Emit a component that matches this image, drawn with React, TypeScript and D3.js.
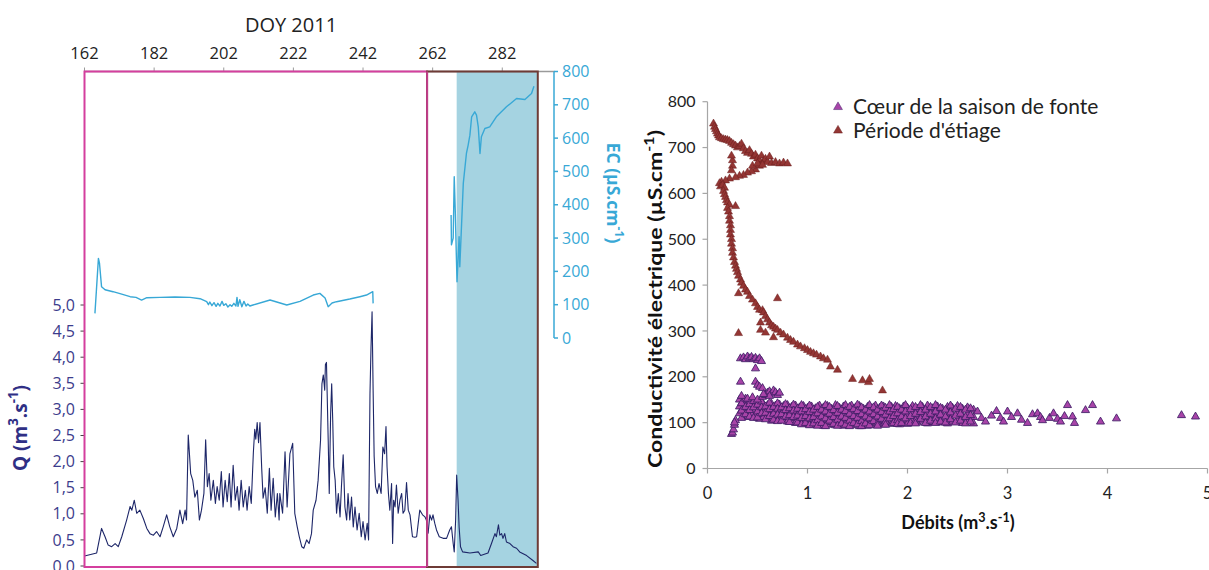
import React from "react";
import * as d3 from "d3";

// ---------- Left chart data ----------
const doyTicks = [162, 182, 202, 222, 242, 262, 282];
const qTicks = [0, 0.5, 1, 1.5, 2, 2.5, 3, 3.5, 4, 4.5, 5];
const ecTicks = [0, 100, 200, 300, 400, 500, 600, 700, 800];
const doyDomain = [162, 297];
const meltPeriod = [162, 260.4];
const lowPeriod = [260.4, 292.2];
const shadedPeriod = [268.9, 292.2];

// discharge Q (m3/s) by day of year
const qSeries: [number, number][] = [
  [162.0, 0.19], [165.5, 0.25], [166.9, 0.72], [167.9, 0.56], [168.8, 0.4], [169.8, 0.37], [170.8, 0.43], [171.7, 0.37],
  [172.7, 0.56], [174.1, 0.88], [175.1, 1.14], [175.6, 1.07], [176.3, 1.26], [177.0, 1.01], [177.9, 1.07], [178.9, 0.91],
  [179.9, 0.72], [180.8, 0.62], [181.8, 0.59], [182.7, 0.66], [183.7, 0.56], [184.6, 0.75], [185.6, 0.98], [186.5, 0.75],
  [187.5, 0.56], [188.5, 0.72], [189.4, 1.07], [190.2, 0.81], [190.9, 1.07], [191.3, 0.88], [191.8, 2.51], [192.5, 1.77],
  [193.1, 1.64], [193.7, 1.32], [194.4, 1.45], [195.0, 0.88], [195.6, 1.07], [196.3, 1.39], [196.8, 2.42], [197.3, 1.52],
  [197.8, 1.77], [198.3, 1.26], [199.0, 1.64], [199.6, 1.2], [200.1, 1.52], [200.7, 1.26], [201.3, 1.81], [201.8, 1.13],
  [202.4, 1.64], [203.0, 1.23], [203.6, 1.77], [204.1, 1.13], [204.7, 1.93], [205.3, 1.26], [205.9, 1.52], [206.4, 1.07],
  [207.0, 1.64], [207.6, 1.13], [208.2, 1.45], [208.7, 1.07], [209.3, 1.52], [209.9, 1.2], [210.5, 2.17], [210.9, 2.62],
  [211.2, 2.43], [211.6, 2.75], [212.0, 2.36], [212.4, 2.75], [212.9, 1.87], [213.3, 1.3], [213.9, 1.5], [214.5, 1.01],
  [215.1, 1.87], [215.6, 1.07], [216.2, 1.68], [216.8, 0.94], [217.4, 1.39], [217.9, 0.88], [218.1, 1.39], [218.9, 1.01],
  [219.6, 2.19], [220.2, 1.13], [221.0, 2.15], [221.8, 2.35], [222.4, 1.01], [223.1, 0.75], [223.7, 0.56], [224.4, 0.37],
  [225.0, 0.34], [225.8, 0.5], [226.5, 0.43], [227.2, 0.62], [227.7, 1.07], [228.5, 1.26], [229.1, 1.64], [229.8, 2.41],
  [230.2, 3.49], [230.6, 3.66], [231.0, 3.37], [231.2, 3.86], [231.5, 3.9], [232.0, 2.41], [232.3, 1.39], [232.7, 2.92],
  [233.0, 3.49], [233.3, 2.79], [233.6, 1.9], [234.0, 1.64], [234.4, 1.01], [234.9, 1.39], [235.4, 0.94], [235.8, 1.52],
  [236.3, 2.13], [236.8, 1.13], [237.3, 0.88], [237.7, 1.39], [238.2, 0.88], [238.7, 1.32], [239.2, 0.75], [239.7, 1.13],
  [240.3, 0.69], [240.9, 1.01], [241.5, 0.56], [242.0, 0.85], [242.6, 0.5], [243.2, 0.82], [243.6, 0.5], [244.0, 3.3],
  [244.3, 4.2], [244.6, 4.87], [244.9, 3.37], [245.2, 2.1], [245.6, 1.52], [246.1, 1.39], [246.6, 1.58], [247.2, 1.39],
  [247.7, 2.28], [248.2, 2.15], [248.6, 2.67], [248.9, 1.9], [249.3, 1.39], [249.7, 1.07], [250.2, 1.58], [250.5, 0.43],
  [250.8, 1.26], [251.2, 1.13], [251.6, 1.55], [252.1, 1.01], [252.6, 1.26], [253.1, 1.39], [253.5, 1.01], [254.0, 1.07],
  [254.5, 1.6], [255.0, 1.07], [255.5, 0.98], [256.2, 0.56], [256.9, 0.55], [257.4, 0.56], [258.3, 1.07], [259.1, 0.98],
  [259.8, 0.94], [260.2, 0.88], [260.7, 0.63], [261.2, 0.98], [261.7, 0.88], [262.1, 0.98], [262.6, 0.82], [263.1, 0.69],
  [263.9, 0.56], [265.0, 0.53], [266.0, 0.53], [266.9, 0.69], [267.4, 0.75], [267.9, 0.43], [268.2, 0.27], [268.6, 0.88],
  [268.9, 1.74], [269.3, 1.26], [269.6, 0.75], [270.0, 0.37], [270.6, 0.27], [272.7, 0.25], [275.1, 0.27], [275.8, 0.2],
  [277.9, 0.25], [278.9, 0.43], [279.9, 0.62], [280.3, 0.56], [280.9, 0.79], [281.3, 0.59], [281.8, 0.62], [282.2, 0.53],
  [282.7, 0.62], [283.2, 0.46], [284.2, 0.43], [285.1, 0.37], [286.1, 0.34], [287.0, 0.27], [289.0, 0.2], [290.9, 0.1],
  [291.8, 0.05],
];

// electrical conductivity EC (µS/cm), melt season
const ecMelt: [number, number][] = [
  [165.0, 74], [165.4, 140], [166.0, 239], [166.3, 225], [166.9, 154], [167.9, 145], [170.2, 139], [172.2, 133],
  [175.1, 124], [176.8, 122], [178.4, 114], [179.9, 121], [183.7, 122], [188.0, 123], [192.3, 122], [195.2, 118],
  [197.1, 109], [197.6, 100], [198.0, 108], [198.6, 97], [199.2, 106], [199.8, 95], [200.3, 104], [200.9, 96],
  [201.5, 110], [202.0, 98], [202.6, 103], [203.2, 93], [203.8, 100], [204.3, 95], [204.9, 104], [205.5, 96],
  [205.8, 122], [206.1, 95], [206.6, 115], [207.2, 94], [207.8, 110], [208.4, 96], [208.9, 102], [209.5, 96],
  [210.4, 99], [215.3, 114], [220.1, 99], [223.9, 110], [227.7, 129], [229.6, 134], [231.1, 120], [232.0, 94],
  [233.1, 105], [234.4, 109], [238.2, 117], [241.1, 124], [243.0, 129], [244.8, 139], [244.9, 104],
];

// electrical conductivity EC (µS/cm), low-water period
const ecLow: [number, number][] = [
  [267.3, 369], [267.4, 280], [267.9, 300], [268.2, 484], [268.5, 380], [268.8, 250], [269.0, 169], [269.6, 304],
  [269.8, 214], [270.8, 464], [271.7, 554], [272.2, 579], [272.7, 609], [273.2, 664], [274.1, 679], [274.6, 669],
  [275.1, 634], [275.6, 554], [276.0, 604], [277.0, 629], [278.4, 634], [280.3, 664], [283.2, 694], [286.1, 719],
  [288.5, 716], [290.4, 734], [291.1, 756],
];

// ---------- Right chart data ----------
const debitTicks = [0, 1, 2, 3, 4, 5];
const condTicks = [0, 100, 200, 300, 400, 500, 600, 700, 800];
const seriesNames = ["Cœur de la saison de fonte", "Période d'étiage"];

// melt season: dense band, Q -> several EC readings
const meltBand: [number, number[]][] = [
  [0.32, [150, 135, 120]], [0.36, [146, 130, 115]], [0.40, [148, 138, 124, 112]], [0.44, [145, 132, 118]],
  [0.48, [142, 128, 114]], [0.52, [144, 130, 118, 108]], [0.56, [140, 126, 112]], [0.60, [138, 124, 110]],
  [0.64, [141, 128, 115, 104]], [0.68, [137, 122, 108]], [0.72, [139, 126, 113]], [0.76, [136, 121, 106]],
  [0.80, [138, 125, 112, 102]], [0.84, [134, 120, 105]], [0.88, [137, 123, 110, 99]], [0.92, [133, 118, 104]],
  [0.96, [136, 122, 108, 97]], [1.00, [132, 117, 102]], [1.04, [135, 121, 107, 95]], [1.08, [131, 116, 100]],
  [1.12, [137, 124, 110, 96]], [1.16, [133, 119, 104, 93]], [1.20, [136, 121, 106, 95]], [1.24, [130, 116, 101]],
  [1.28, [138, 123, 108, 94]], [1.32, [132, 117, 102]], [1.36, [135, 120, 105, 93]], [1.40, [131, 116, 100]],
  [1.44, [137, 122, 107, 94]], [1.48, [133, 118, 103]], [1.52, [136, 121, 106, 92]], [1.56, [130, 115, 99]],
  [1.60, [134, 119, 104, 93]], [1.64, [131, 116, 101]], [1.68, [137, 122, 107, 95]], [1.72, [132, 117, 102]],
  [1.76, [135, 120, 105, 96]], [1.80, [130, 115, 100]], [1.84, [134, 119, 104, 97]], [1.88, [136, 121, 106]],
  [1.92, [131, 116, 101, 96]], [1.96, [135, 120, 105]], [2.00, [132, 117, 102, 97]], [2.05, [136, 121, 106]],
  [2.10, [130, 115, 100]], [2.15, [134, 119, 104]], [2.20, [137, 122, 107, 98]], [2.25, [131, 116, 101]],
  [2.30, [135, 120, 105]], [2.35, [130, 115, 100]], [2.40, [134, 119, 104, 98]], [2.45, [132, 117, 102]],
  [2.50, [136, 121, 106]], [2.55, [130, 115, 99]], [2.60, [133, 118, 104]], [2.66, [128, 112, 98]],
  [0.34, [142, 126, 110]], [0.38, [152, 134, 118]], [0.42, [140, 127, 113]], [0.46, [147, 133, 110]],
  [0.50, [139, 124, 111]], [0.54, [146, 133, 120]], [0.58, [135, 121, 107]], [0.62, [143, 129, 114]],
  [0.66, [134, 119, 106]], [0.70, [142, 130, 117, 103]], [0.74, [133, 118, 104]], [0.78, [140, 127, 113]],
  [0.82, [131, 116, 101]], [0.86, [139, 126, 112]], [0.90, [130, 115, 100]], [0.94, [138, 124, 110, 96]],
  [0.98, [129, 114, 99]], [1.02, [137, 123, 109, 94]], [1.06, [128, 112, 98]], [1.10, [134, 120, 105, 93]],
  [1.14, [128, 113, 99]], [1.18, [138, 124, 109, 92]], [1.22, [134, 119, 104]], [1.26, [127, 112, 97]],
  [1.30, [136, 121, 106, 93]], [1.34, [128, 113, 98]], [1.38, [138, 125, 110, 95]], [1.42, [134, 119, 104, 92]],
  [1.46, [129, 114, 99]], [1.50, [139, 125, 110, 96]], [1.54, [133, 118, 103, 92]], [1.58, [128, 113, 98]],
  [1.62, [138, 124, 109, 94]], [1.66, [133, 118, 103]], [1.70, [128, 113, 98, 93]], [1.74, [137, 123, 108]],
  [1.78, [132, 117, 102, 95]], [1.82, [138, 124, 109]], [1.86, [129, 114, 99]], [1.90, [134, 120, 105, 97]],
  [1.94, [128, 113, 99]], [1.98, [138, 124, 109]], [2.03, [129, 114, 99]], [2.08, [134, 119, 104, 98]],
  [2.13, [138, 123, 108]], [2.18, [128, 113, 99]], [2.23, [134, 119, 104]], [2.28, [138, 124, 109, 99]],
  [2.33, [132, 117, 102]], [2.38, [128, 113, 100]], [2.43, [137, 122, 107]], [2.48, [130, 115, 100]],
  [2.53, [134, 119, 104]], [2.58, [128, 112, 98]], [2.63, [131, 116, 102]],
];

// melt season: isolated points (Q, EC)
const meltPoints: [number, number][] = [
  [0.24, 75], [0.25, 78], [0.26, 85], [0.27, 95], [0.28, 105], [0.27, 100],
  [0.33, 240], [0.36, 242], [0.38, 238], [0.40, 244], [0.42, 240], [0.44, 243], [0.46, 238], [0.48, 241],
  [0.50, 236], [0.52, 240], [0.54, 234], [0.48, 218], [0.33, 189], [0.48, 189], [0.50, 182], [0.52, 178], [0.55, 175],
  [0.34, 158], [0.40, 152], [0.45, 155], [0.50, 150], [0.55, 156], [0.58, 160], [0.60, 165], [0.62, 168],
  [0.64, 163], [0.66, 170], [0.68, 166], [0.70, 160], [0.72, 165], [0.62, 158], [0.56, 162],
  [2.70, 124], [2.74, 110], [2.78, 102], [2.84, 115], [2.89, 125], [2.93, 110], [2.96, 102], [3.00, 124],
  [3.04, 112], [3.10, 120], [3.14, 106], [3.20, 99], [3.25, 118], [3.30, 120], [3.33, 112], [3.35, 105],
  [3.42, 110], [3.46, 120], [3.50, 108], [3.53, 102], [3.57, 114], [3.60, 138], [3.65, 113], [3.67, 99],
  [3.78, 127], [3.85, 138], [3.93, 102], [4.09, 109], [4.74, 116], [4.88, 113],
];

// low-water period (Q, EC)
const lowPoints: [number, number][] = [
  [0.06, 752], [0.07, 745], [0.08, 740], [0.09, 735], [0.10, 730], [0.11, 726], [0.12, 722], [0.14, 720],
  [0.16, 718], [0.18, 717], [0.20, 716], [0.22, 714], [0.24, 710], [0.26, 707], [0.28, 704], [0.30, 700],
  [0.32, 703], [0.34, 708], [0.36, 698], [0.38, 692], [0.40, 688], [0.42, 694], [0.44, 686], [0.46, 680],
  [0.48, 684], [0.50, 676], [0.52, 672], [0.54, 682], [0.56, 670], [0.58, 675], [0.60, 668], [0.62, 680],
  [0.64, 666], [0.68, 668], [0.72, 665], [0.76, 667], [0.80, 665],
  [0.52, 660], [0.48, 652], [0.44, 648], [0.40, 645], [0.36, 640], [0.32, 638], [0.28, 635], [0.25, 660],
  [0.25, 672], [0.24, 682], [0.24, 650], [0.22, 632], [0.18, 628], [0.14, 625], [0.12, 622], [0.13, 615],
  [0.15, 618], [0.17, 612], [0.45, 660], [0.50, 665], [0.55, 662],
  [0.16, 605], [0.17, 598], [0.18, 592], [0.19, 585], [0.20, 580], [0.22, 575], [0.28, 572], [0.20, 568],
  [0.21, 560], [0.22, 550], [0.22, 540], [0.23, 530], [0.23, 520], [0.23, 510], [0.24, 500], [0.24, 490],
  [0.25, 480], [0.25, 470], [0.26, 460], [0.27, 450], [0.28, 442], [0.29, 435], [0.30, 428], [0.31, 420],
  [0.33, 412], [0.34, 405], [0.36, 398], [0.38, 390], [0.40, 385], [0.31, 382], [0.42, 376], [0.45, 368],
  [0.48, 360], [0.50, 352], [0.52, 346], [0.55, 345], [0.56, 340], [0.58, 332], [0.60, 325], [0.70, 371],
  [0.31, 295], [0.53, 318], [0.53, 302], [0.58, 296], [0.66, 286], [0.62, 318], [0.64, 312], [0.66, 309],
  [0.68, 305], [0.70, 302], [0.73, 296], [0.76, 292], [0.80, 285], [0.83, 280], [0.86, 276], [0.90, 270],
  [0.93, 266], [0.97, 262], [1.00, 258], [1.03, 254], [1.06, 251], [1.09, 248], [1.13, 244], [1.16, 240],
  [1.20, 237], [1.23, 222], [1.30, 215], [1.45, 195], [1.55, 192], [1.61, 188], [1.62, 195], [1.75, 170],
];

const LEFT_FONT = "'Open Sans', 'DejaVu Sans', sans-serif";
const RIGHT_FONT = "Lato, 'Open Sans', sans-serif";

const Q_COLOR = "#1d2668";
const Q_AXIS_COLOR = "#3c3c8c";
const EC_COLOR = "#38a8d6";
const PINK = "#d43f9e";
const BROWN = "#6e3b36";
const SHADE = "#a5d3e1";
const MELT_FILL = "#a844a8";
const MELT_STROKE = "#3e1d66";
const LOW_FILL = "#943634";
const LOW_STROKE = "#6a1e1e";

const fmtComma = (v: number) => d3.format(".1f")(v).replace(".", ",");

function Sup({ children }: { children: React.ReactNode }) {
  return (
    <tspan baselineShift="super" fontSize="70%">
      {children}
    </tspan>
  );
}

export default function App() {
  // Left chart scales
  const x = d3.scaleLinear().domain(doyDomain).range([84.5, 554.5]);
  const qY = d3.scaleLinear().domain([0, 5]).range([566, 305]);
  const ecY = d3.scaleLinear().domain([0, 800]).range([338, 71.5]);
  const top = ecY(800);
  const bottom = qY(0) + 1;

  const qLine = d3
    .line<[number, number]>()
    .x((d) => x(d[0]))
    .y((d) => qY(d[1]));
  const ecLine = d3
    .line<[number, number]>()
    .x((d) => x(d[0]))
    .y((d) => ecY(d[1]));

  // Right chart scales
  const sx = d3.scaleLinear().domain([0, 5]).range([707.5, 1207.5]);
  const sy = d3.scaleLinear().domain([0, 800]).range([468.5, 101.7]);
  const tri = d3.symbol(d3.symbolTriangle, 28)()!;
  const triLegend = d3.symbol(d3.symbolTriangle, 34)()!;

  const meltAll: [number, number][] = [
    ...meltBand.flatMap(([q, ecs]) => ecs.map((e) => [q, e] as [number, number])),
    ...meltPoints,
  ];

  return (
    <svg
      width={1209}
      height={570}
      style={{ position: "absolute", left: 0, top: 0, background: "#fff" }}
      xmlns="http://www.w3.org/2000/svg"
    >
      <rect x={0} y={0} width={1209} height={570} fill="#fff" />
      {/* ================= LEFT CHART ================= */}
      <g fontFamily={LEFT_FONT}>
        <rect
          x={x(shadedPeriod[0])}
          y={top}
          width={x(shadedPeriod[1]) - x(shadedPeriod[0])}
          height={bottom - top}
          fill={SHADE}
        />
        <line x1={x(doyDomain[0])} x2={x(doyDomain[1])} y1={top} y2={top} stroke="#9a9a9a" strokeWidth={1.5} />
        {doyTicks.map((t) => (
          <g key={t}>
            <line x1={x(t)} x2={x(t)} y1={top} y2={top - 4} stroke="#9a9a9a" strokeWidth={1} />
            <text x={x(t)} y={59} textAnchor="middle" fontSize={16.5} fill="#222">
              {t}
            </text>
          </g>
        ))}
        <text x={291} y={32} textAnchor="middle" fontSize={20} fill="#222">
          DOY 2011
        </text>

        {qTicks.map((t) => (
          <g key={t}>
            <line x1={x(doyDomain[0]) - 4} x2={x(doyDomain[0])} y1={qY(t)} y2={qY(t)} stroke="#444" strokeWidth={1} />
            <text x={75} y={qY(t)} dy="0.35em" textAnchor="end" fontSize={16} fill={Q_AXIS_COLOR}>
              {fmtComma(t)}
            </text>
          </g>
        ))}
        <text
          transform={`translate(27,428) rotate(-90)`}
          textAnchor="middle"
          fontSize={19}
          fontWeight="bold"
          fill="#2f2f85"
        >
          Q (m<Sup>3</Sup>.s<Sup>-1</Sup>)
        </text>

        <line x1={554} x2={554} y1={ecY(800)} y2={ecY(0)} stroke={EC_COLOR} strokeWidth={1.5} />
        {ecTicks.map((t) => (
          <g key={t}>
            <line x1={554} x2={558} y1={ecY(t)} y2={ecY(t)} stroke={EC_COLOR} strokeWidth={1.5} />
            <text x={562} y={ecY(t)} dy="0.35em" fontSize={16} fill={EC_COLOR}>
              {t}
            </text>
          </g>
        ))}
        <text
          transform={`translate(607,193) rotate(90)`}
          textAnchor="middle"
          fontSize={17.5}
          fontWeight="bold"
          fill={EC_COLOR}
        >
          EC (µS.cm<Sup>-1</Sup>)
        </text>

        <path d={qLine(qSeries)!} fill="none" stroke={Q_COLOR} strokeWidth={1.1} strokeLinejoin="round" />
        <path d={ecLine(ecMelt)!} fill="none" stroke={EC_COLOR} strokeWidth={1.4} strokeLinejoin="round" />
        <path d={ecLine(ecLow)!} fill="none" stroke={EC_COLOR} strokeWidth={1.4} strokeLinejoin="round" />

        <rect
          x={x(meltPeriod[0])}
          y={top}
          width={x(meltPeriod[1]) - x(meltPeriod[0])}
          height={bottom - top}
          fill="none"
          stroke={PINK}
          strokeWidth={2}
        />
        <rect
          x={x(lowPeriod[0])}
          y={top}
          width={x(lowPeriod[1]) - x(lowPeriod[0])}
          height={bottom - top}
          fill="none"
          stroke={BROWN}
          strokeWidth={2}
        />
        <line x1={x(lowPeriod[0])} x2={x(lowPeriod[0])} y1={top} y2={bottom} stroke={PINK} strokeWidth={1.5} />
      </g>

      {/* ================= RIGHT CHART ================= */}
      <g fontFamily={RIGHT_FONT}>
        <line x1={sx(0)} x2={sx(0)} y1={sy(800)} y2={sy(0)} stroke="#a6a6a6" strokeWidth={1.2} />
        <line x1={sx(0)} x2={sx(5)} y1={sy(0)} y2={sy(0)} stroke="#a6a6a6" strokeWidth={1.2} />
        {condTicks.map((t) => (
          <g key={t}>
            <line x1={sx(0) - 5} x2={sx(0)} y1={sy(t)} y2={sy(t)} stroke="#a6a6a6" strokeWidth={1.2} />
            <text x={sx(0) - 12} y={sy(t)} dy="0.35em" textAnchor="end" fontSize={16} fill="#222">
              {t}
            </text>
          </g>
        ))}
        {debitTicks.map((t) => (
          <g key={t}>
            <line x1={sx(t)} x2={sx(t)} y1={sy(0)} y2={sy(0) + 5} stroke="#a6a6a6" strokeWidth={1.2} />
            <text x={sx(t)} y={499} textAnchor="middle" fontSize={16.5} fill="#222">
              {t}
            </text>
          </g>
        ))}
        <text x={958} y={529} textAnchor="middle" fontSize={18} fontWeight="bold" fill="#111">
          Débits (m<Sup>3</Sup>.s<Sup>-1</Sup>)
        </text>
        <text
          transform={`translate(662,299) rotate(-90)`}
          textAnchor="middle"
          fontSize={19}
          fontWeight="bold"
          fill="#111"
          textLength={338}
          lengthAdjust="spacingAndGlyphs"
        >
          Conductivité électrique (µS.cm<Sup>-1</Sup>)
        </text>

        {meltAll.map((d, i) => (
          <path
            key={`m${i}`}
            d={tri}
            transform={`translate(${sx(d[0])},${sy(d[1])})`}
            fill={MELT_FILL}
            stroke={MELT_STROKE}
            strokeWidth={0.85}
          />
        ))}
        {lowPoints.map((d, i) => (
          <path
            key={`l${i}`}
            d={tri}
            transform={`translate(${sx(d[0])},${sy(d[1])})`}
            fill={LOW_FILL}
            stroke={LOW_STROKE}
            strokeWidth={0.5}
          />
        ))}

        {seriesNames.map((name, i) => (
          <g key={name} transform={`translate(838,${107 + i * 23.5})`}>
            <path
              d={triLegend}
              fill={i === 0 ? MELT_FILL : LOW_FILL}
              stroke={i === 0 ? MELT_STROKE : LOW_STROKE}
              strokeWidth={0.5}
            />
            <text x={15} y={0} dy="0.35em" fontSize={21} fill="#222">
              {name}
            </text>
          </g>
        ))}
      </g>
    </svg>
  );
}
